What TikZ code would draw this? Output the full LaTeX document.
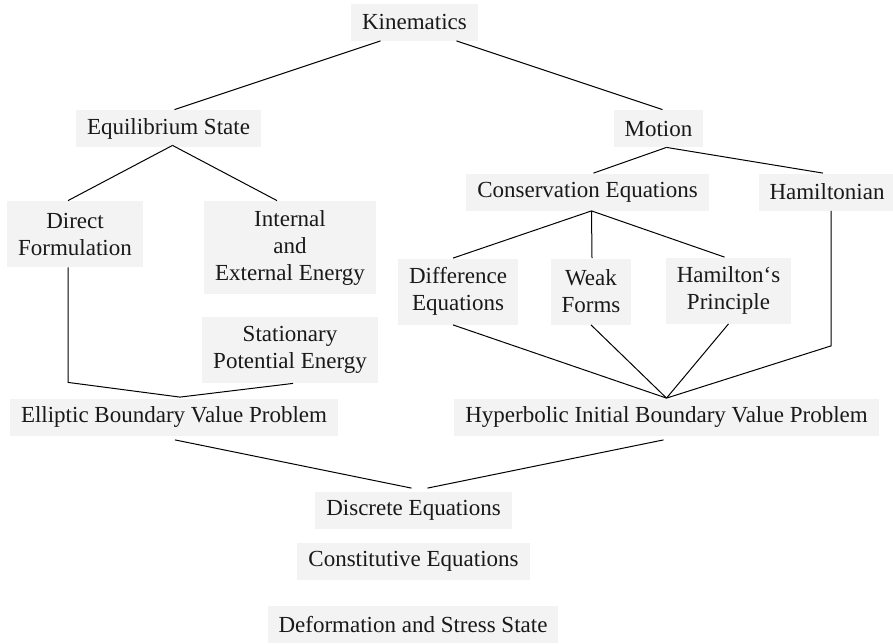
\documentclass[tikz,border=0pt]{standalone}
\usepackage{fontspec}
\setmainfont{Liberation Serif}
\definecolor{boxgray}{HTML}{F3F3F3}
\tikzset{
  box/.style={fill=boxgray, inner xsep=5.5pt, inner ysep=2pt, align=center,
    font=\fontsize{11.5}{13.5}\selectfont, text=black!90, minimum height=18.5pt},
  boxtwo/.style={box, minimum height=33pt},
  boxthree/.style={box, minimum height=46.5pt},
  link/.style={line width=0.5pt},
}
\begin{document}
\begin{tikzpicture}[x=0.5pt, y=-0.5pt]
    \useasboundingbox (0,0) rectangle (893,643);
    % top
    \node[box] (kin) at (414.5,22) {Kinematics};
    \node[box] (equi) at (168.5,128.5) {Equilibrium State};
    \node[box] (motion) at (658.5,128.5) {Motion};
    % left branch
    \node[boxtwo] (direct) at (75,234) {Direct\\Formulation};
    \node[boxthree] (energy) at (290,247.5) {Internal\\and\\External Energy};
    \node[boxtwo] (stat) at (290,350) {Stationary\\Potential Energy};
    \node[box] (ebvp) at (174,417) {Elliptic Boundary Value Problem};
    % right branch
    \node[box] (cons) at (587.5,192) {Conservation Equations};
    \node[box] (ham) at (827,192) {Hamiltonian};
    \node[boxtwo] (diff) at (458,291.5) {Difference\\Equations};
    \node[boxtwo] (weak) at (591,291.5) {Weak\\Forms};
    \node[boxtwo] (hprin) at (728.5,290.5) {Hamilton‘s\\Principle};
    \node[box] (hibvp) at (666.5,417) {Hyperbolic Initial Boundary Value Problem};
    % bottom
    \node[box] (disc) at (413.5,510) {Discrete Equations};
    \node[box] (const) at (413.5,561.5) {Constitutive Equations};
    \node[box] (deform) at (413,624.5) {Deformation and Stress State};

    \draw[link] ([xshift=-17pt]kin.south) -- ([xshift=3pt]equi.north);
    \draw[link] ([xshift=21pt]kin.south) -- ([xshift=2pt]motion.north);
    \draw[link] ([xshift=2pt,yshift=1pt]equi.south) -- ([xshift=-3.5pt]direct.north);
    \draw[link] ([xshift=2pt,yshift=1pt]equi.south) -- ([xshift=-6.5pt]energy.north);
    \draw[link] ([xshift=4pt]motion.south) -- ([xshift=3pt]cons.north);
    \draw[link] ([xshift=4pt]motion.south) -- ([xshift=-2pt]ham.north);
    \draw[link] ([xshift=2pt]cons.south) -- ([xshift=-2.5pt]diff.north);
    \draw[link] ([xshift=2pt]cons.south) -- ([xshift=0.5pt]weak.north);
    \draw[link] ([xshift=2pt]cons.south) -- ([xshift=-2pt]hprin.north);
    \coordinate (ejoin) at ([xshift=3pt,yshift=0.5pt]ebvp.north);
    \draw[link] ([xshift=-3.5pt]direct.south) -- ++(0,115) -- (ejoin);
    \draw[link] ([xshift=1.5pt]stat.south) -- (ejoin);
    \draw[link] ([xshift=-2.5pt]diff.south) -- (hibvp.north);
    \draw[link] (weak.south) -- (hibvp.north);
    \draw[link] (hprin.south) -- (hibvp.north);
    \draw[link] ([xshift=2pt]ham.south) -- ++(0,135) -- (hibvp.north);
    \draw[link] ([xshift=0.5pt,yshift=-2pt]ebvp.south) -- ([xshift=-1pt,yshift=1.5pt]disc.north);
    \draw[link] ([xshift=-1.5pt,yshift=-2pt]hibvp.south) -- ([xshift=7pt,yshift=1.5pt]disc.north);
\end{tikzpicture}
\end{document}
